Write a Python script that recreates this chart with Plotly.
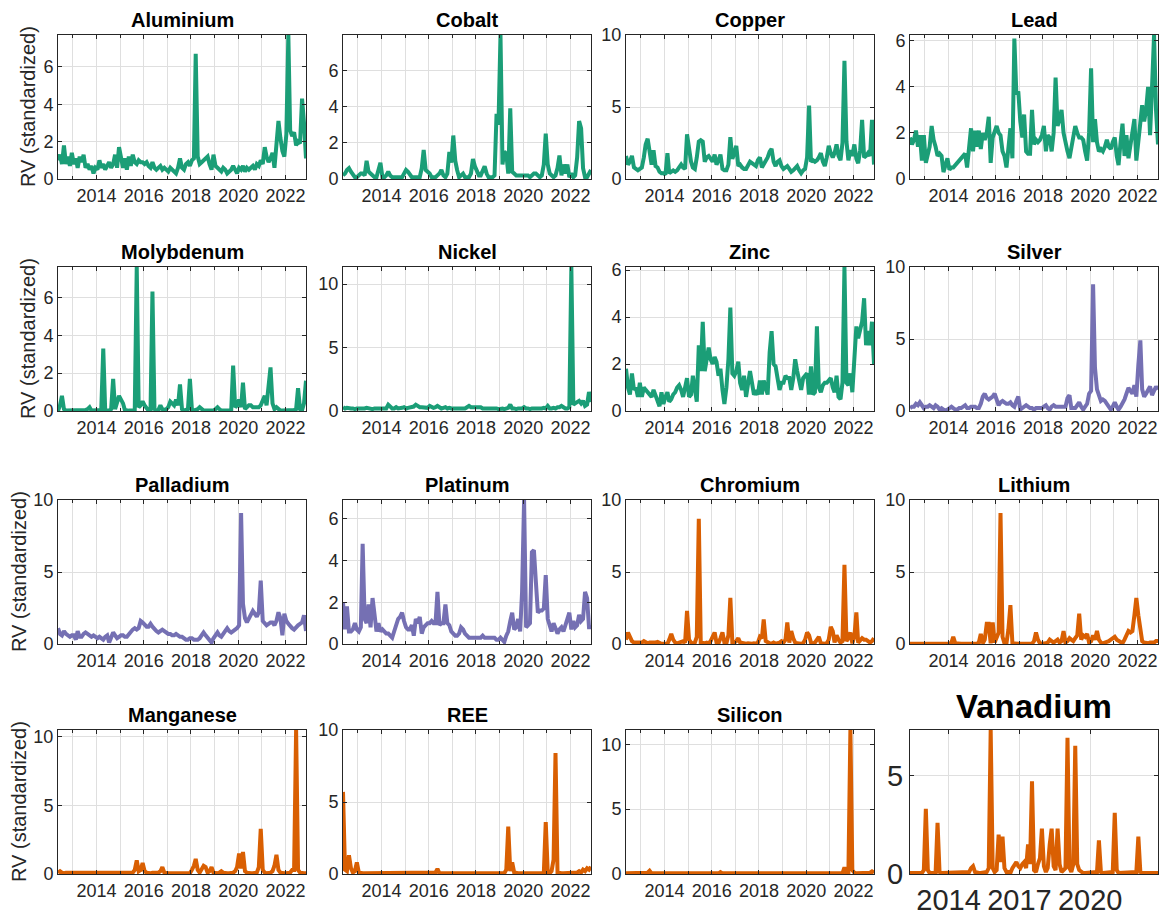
import pandas as pd
import plotly.graph_objects as go

# Monthly observations, May 2012 - Nov 2022 (mid-month stamps)
dates = pd.date_range("2012-05-01", "2022-11-01", freq="MS") + pd.Timedelta(days=14)

metals = ["Aluminium", "Cobalt", "Copper", "Lead",
          "Molybdenum", "Nickel", "Zinc", "Silver",
          "Palladium", "Platinum", "Chromium", "Lithium",
          "Manganese", "REE", "Silicon", "Vanadium"]

# one line per calendar year (2012: May-Dec, 2022: Jan-Nov)
aluminium = [
    1.0, 1.3, 0.8, 1.8, 0.8, 1.2, 0.7, 1.4,
    0.8, 1.1, 0.6, 1.2, 0.9, 1.3, 0.6, 0.8, 0.5, 0.7, 0.3, 0.6,
    0.5, 1.0, 0.6, 0.8, 0.5, 0.7, 0.9, 0.6, 0.8, 1.3, 0.6, 1.7,
    1.0, 0.6, 1.1, 0.5, 1.2, 0.7, 1.3, 0.9, 0.8, 1.0, 0.9, 0.9,
    0.8, 0.9, 0.7, 0.6, 0.9, 0.6, 0.5, 0.6, 0.7, 0.5, 0.6, 0.5,
    0.4, 0.6, 0.5, 0.4, 0.3, 0.6, 1.1, 0.6, 0.5, 0.8, 0.9, 0.7,
    1.0, 1.1, 6.7, 1.2, 0.8, 0.9, 1.0, 1.1, 1.2, 0.8, 0.5, 1.3,
    0.7, 0.6, 0.5, 0.4, 0.6, 0.5, 0.3, 0.4, 0.5, 0.7, 0.5, 0.3,
    0.6, 0.5, 0.7, 0.4, 0.6, 0.5, 0.6, 0.7, 0.5, 0.8, 0.7, 1.0,
    0.8, 1.7, 1.2, 0.9, 1.1, 1.4, 0.6, 1.6, 3.1, 2.2, 1.5, 1.2,
    2.4, 7.7, 2.6, 2.3, 2.5, 1.8, 2.0, 1.9, 4.3, 3.0, 1.1,
]
cobalt = [
    0.2, 0.3, 0.5, 0.6, 0.4, 0.2, 0.1, 0.1,
    0.2, 0.3, 0.3, 0.2, 1.0, 0.4, 0.3, 0.2, 0.1, 0.1, 0.5, 0.9,
    0.1, 0.1, 0.2, 0.4, 0.2, 0.1, 0.1, 0.1, 0.1, 0.1, 0.1, 0.3,
    0.5, 0.4, 0.2, 0.1, 0.1, 0.1, 0.1, 0.1, 0.6, 1.6, 0.5, 0.4,
    0.3, 0.1, 0.1, 0.1, 0.2, 0.3, 0.5, 0.2, 0.1, 0.3, 1.5, 0.9,
    2.4, 1.0, 0.5, 0.1, 0.2, 0.3, 0.1, 0.1, 0.1, 0.3, 1.1, 0.7,
    0.4, 0.2, 0.2, 0.5, 0.7, 0.3, 0.1, 0.1, 0.1, 0.2, 3.6, 3.0,
    7.95, 0.8, 1.5, 1.4, 0.3, 3.9, 0.4, 0.3, 0.2, 0.2, 0.2, 0.2,
    0.2, 0.2, 0.2, 0.1, 0.2, 0.3, 0.3, 0.2, 0.1, 0.2, 0.8, 2.5,
    0.8, 0.3, 0.2, 0.1, 0.2, 0.6, 1.3, 0.2, 0.8, 0.3, 0.8, 0.1,
    0.3, 0.1, 0.2, 1.2, 3.2, 2.8, 0.6, 0.1, 0.1, 0.3, 0.5,
]
copper = [
    1.6, 1.0, 1.2, 1.6, 0.8, 0.7, 0.6, 0.7,
    0.8, 1.5, 2.4, 2.8, 2.0, 1.0, 2.0, 0.9, 0.8, 0.5, 0.4, 0.4,
    0.3, 1.8, 0.4, 0.5, 0.6, 0.5, 0.6, 0.8, 1.0, 0.8, 0.7, 3.1,
    2.0, 1.2, 0.8, 0.7, 1.5, 2.6, 2.7, 2.6, 1.2, 1.5, 1.6, 1.4,
    1.2, 1.7, 1.0, 1.3, 1.7, 0.7, 0.6, 0.6, 1.0, 2.9, 1.4, 1.8,
    2.3, 0.9, 1.0, 0.8, 0.7, 0.7, 1.0, 1.2, 1.1, 1.0, 0.9, 1.3,
    1.5, 0.8, 1.0, 1.3, 1.5, 1.9, 2.1, 1.2, 0.9, 1.2, 1.3, 0.9,
    0.7, 0.8, 0.9, 0.7, 0.5, 0.6, 0.8, 0.9, 0.6, 0.4, 0.6, 0.7,
    1.5, 5.1, 1.2, 1.3, 1.2, 1.3, 1.5, 1.8, 1.2, 0.9, 1.5, 2.3,
    1.8, 1.5, 1.8, 2.4, 1.6, 1.3, 2.5, 8.2, 2.6, 1.3, 2.0, 1.6,
    2.4, 1.4, 1.1, 2.0, 4.1, 1.5, 1.6, 1.8, 1.6, 4.1, 1.0,
]
lead = [
    1.8, 1.5, 1.7, 2.1, 1.4, 1.9, 0.8, 1.9,
    0.7, 1.0, 1.4, 2.3, 1.7, 1.4, 1.0, 1.1, 1.0, 0.3, 0.7, 0.9,
    0.4, 0.5, 0.5, 0.6, 0.7, 0.8, 0.9, 1.0, 1.1, 0.5, 1.3, 2.2,
    1.2, 2.1, 1.4, 2.1, 1.3, 2.0, 1.7, 2.0, 2.7, 0.7, 1.8, 2.1,
    2.3, 2.0, 1.9, 1.2, 1.0, 0.5, 1.6, 2.2, 0.9, 6.1, 3.7, 3.8,
    2.5, 1.8, 2.8, 1.2, 1.1, 1.1, 3.0, 1.5, 1.7, 1.6, 1.7, 1.9,
    2.3, 1.2, 1.9, 1.8, 1.2, 2.0, 4.4, 2.3, 2.6, 3.0, 2.0, 1.5,
    1.2, 0.9, 1.3, 1.8, 2.3, 2.0, 1.8, 1.8, 1.7, 1.2, 0.8, 2.0,
    4.8, 1.6, 2.6, 1.6, 1.2, 1.3, 1.2, 1.4, 1.7, 1.4, 1.3, 1.6,
    1.8, 1.0, 0.6, 1.6, 2.4, 1.0, 1.9, 0.9, 1.5, 2.2, 2.6, 0.8,
    1.6, 2.4, 3.2, 2.5, 3.0, 4.0, 1.9, 4.0, 6.25, 3.0, 1.5,
]
molybdenum = [
    0.0, 0.3, 0.8, 0.1, 0.02, 0.02, 0.02, 0.05,
    0.02, 0.02, 0.05, 0.02, 0.02, 0.02, 0.05, 0.1, 0.2, 0.02, 0.02, 0.02,
    0.02, 0.02, 0.05, 3.3, 0.05, 0.02, 0.02, 0.1, 1.7, 0.1, 0.5, 0.8,
    0.6, 0.4, 0.05, 0.02, 0.02, 0.02, 0.02, 0.02, 7.6, 0.2, 0.3, 0.5,
    0.3, 0.1, 0.02, 0.02, 6.3, 0.1, 0.02, 0.05, 0.3, 0.1, 0.05, 0.1,
    0.2, 0.5, 0.4, 0.3, 0.6, 0.3, 1.4, 0.1, 0.02, 0.05, 0.1, 1.7,
    0.1, 0.02, 0.05, 0.1, 0.2, 0.1, 0.02, 0.02, 0.02, 0.02, 0.02, 0.02,
    0.1, 0.2, 0.1, 0.02, 0.02, 0.02, 0.05, 0.02, 0.02, 2.4, 0.2, 0.3,
    0.6, 0.2, 1.5, 0.1, 0.2, 0.3, 0.3, 0.2, 0.2, 0.2, 0.2, 0.3,
    0.5, 0.8, 0.3, 1.2, 2.3, 0.4, 0.1, 0.2, 0.1, 0.02, 0.02, 0.02,
    0.02, 0.02, 0.02, 0.02, 0.05, 0.1, 1.2, 0.1, 0.05, 0.4, 1.6,
]
nickel = [
    0.3, 0.2, 0.25, 0.2, 0.2, 0.2, 0.15, 0.2,
    0.2, 0.2, 0.15, 0.2, 0.25, 0.2, 0.15, 0.15, 0.2, 0.2, 0.15, 0.2,
    0.2, 0.15, 0.2, 0.5, 0.3, 0.2, 0.2, 0.3, 0.2, 0.2, 0.25, 0.3,
    0.2, 0.25, 0.3, 0.3, 0.35, 0.5, 0.4, 0.3, 0.3, 0.3, 0.3, 0.25,
    0.4, 0.3, 0.25, 0.3, 0.4, 0.3, 0.2, 0.25, 0.3, 0.2, 0.25, 0.2,
    0.2, 0.25, 0.2, 0.2, 0.2, 0.25, 0.2, 0.3, 0.4, 0.3, 0.3, 0.25,
    0.3, 0.25, 0.3, 0.2, 0.2, 0.2, 0.25, 0.2, 0.2, 0.2, 0.2, 0.15,
    0.2, 0.2, 0.15, 0.2, 0.25, 0.5, 0.2, 0.2, 0.15, 0.2, 0.2, 0.2,
    0.3, 0.2, 0.2, 0.15, 0.2, 0.2, 0.15, 0.2, 0.2, 0.2, 0.25, 0.2,
    0.4, 0.2, 0.2, 0.25, 0.2, 0.3, 0.3, 0.4, 0.3, 0.2, 0.2, 0.3,
    11.35, 0.5, 0.6, 0.7, 0.8, 0.6, 0.8, 0.4, 0.5, 1.5, 0.7,
]
zinc = [
    1.8, 1.0, 0.7, 1.6, 0.9, 1.0, 0.6, 1.2,
    0.6, 1.0, 0.9, 0.8, 0.7, 0.6, 0.9, 0.7, 0.5, 0.2, 0.8, 0.3,
    0.6, 0.8, 0.4, 0.5, 0.7, 0.8, 1.0, 1.1, 0.9, 0.6, 1.0, 1.4,
    0.6, 0.7, 1.5, 0.9, 0.4, 2.8, 1.7, 3.8, 1.7, 2.2, 2.7, 2.2,
    2.0, 2.3, 2.1, 1.5, 1.8, 0.9, 0.3, 1.0, 2.2, 4.4, 1.6, 1.5,
    1.7, 2.1, 1.2, 0.9, 1.5, 0.6, 1.2, 1.7, 1.2, 0.7, 0.8, 0.7,
    1.3, 0.7, 1.3, 0.9, 0.7, 2.5, 3.4, 2.0, 1.9, 1.4, 0.9, 1.2,
    1.2, 1.5, 1.4, 1.4, 0.9, 1.4, 2.2, 1.7, 1.2, 0.9, 1.4, 1.5,
    1.6, 0.7, 1.9, 0.7, 0.8, 3.6, 1.0, 0.8, 1.1, 1.2, 1.2, 1.3,
    1.4, 1.0, 0.8, 1.5, 0.6, 0.5, 1.2, 6.13, 1.2, 1.1, 1.6, 0.8,
    2.0, 3.6, 3.1, 3.4, 3.8, 4.8, 2.8, 3.4, 2.8, 3.8, 2.0,
]
silver = [
    0.2, 0.3, 0.3, 0.5, 0.4, 0.6, 0.4, 0.2,
    0.3, 0.3, 0.4, 0.3, 0.2, 0.4, 0.3, 0.1, 0.2, 0.1, 0.05, 0.1,
    0.2, 0.3, 0.2, 0.1, 0.1, 0.2, 0.2, 0.3, 0.4, 0.2, 0.2, 0.3,
    0.3, 0.3, 0.2, 0.2, 0.5, 1.0, 1.2, 0.9, 0.8, 0.9, 1.0, 1.2,
    0.7, 0.4, 0.6, 0.7, 0.6, 0.5, 0.5, 0.6, 0.4, 0.3, 0.7, 1.0,
    0.1, 0.2, 0.3, 0.4, 0.3, 0.2, 0.2, 0.1, 0.2, 0.2, 0.2, 0.2,
    0.3, 0.4, 0.2, 0.1, 0.3, 0.4, 0.3, 0.3, 0.3, 0.3, 0.3, 0.3,
    0.9, 1.1, 0.2, 0.2, 0.2, 0.4, 0.6, 0.3, 0.1, 0.3, 0.5, 1.2,
    1.4, 8.8, 3.0, 1.5, 1.0, 0.7, 0.8, 0.7, 0.5, 0.3, 0.1, 0.3,
    0.6, 0.3, 0.1, 0.3, 0.5, 0.8, 1.2, 1.6, 1.4, 1.2, 1.8, 1.0,
    3.2, 4.9, 1.5, 1.0, 1.2, 1.4, 1.7, 1.1, 1.4, 1.7, 1.5,
]
palladium = [
    1.1, 0.7, 0.6, 0.9, 0.7, 0.6, 0.5, 0.6,
    0.6, 0.3, 0.9, 0.5, 0.5, 0.7, 0.8, 0.7, 0.6, 0.5, 0.6, 0.5,
    0.4, 0.5, 0.4, 0.3, 0.5, 0.6, 0.1, 0.4, 0.8, 0.6, 0.4, 0.5,
    0.6, 0.6, 0.5, 0.5, 0.7, 0.9, 1.0, 1.1, 1.0, 1.1, 1.6, 1.5,
    1.3, 1.2, 1.2, 1.4, 1.2, 1.0, 0.9, 0.8, 0.9, 1.0, 0.9, 0.8,
    0.7, 0.7, 0.6, 0.6, 0.7, 0.6, 0.5, 0.5, 0.4, 0.3, 0.3, 0.4,
    0.4, 0.3, 0.3, 0.3, 0.4, 0.6, 0.8, 0.6, 0.4, 0.3, 0.1, 0.4,
    0.6, 0.8, 0.6, 0.5, 0.7, 0.9, 1.1, 0.9, 0.8, 0.9, 1.0, 1.1,
    1.3, 9.1, 2.8, 1.8, 1.5, 1.8, 2.0, 2.3, 2.1, 1.9, 2.2, 4.4,
    1.6, 1.4, 1.3, 1.4, 1.5, 1.5, 1.3, 1.6, 2.2, 1.8, 0.6, 2.1,
    1.6, 1.4, 1.2, 1.1, 1.0, 1.2, 1.3, 1.4, 1.5, 2.0, 0.9,
]
platinum = [
    2.0, 0.7, 1.8, 0.6, 0.6, 0.7, 1.0, 0.7,
    0.6, 0.8, 4.8, 1.2, 1.0, 1.9, 0.8, 2.2, 1.4, 0.6, 1.0, 0.6,
    0.7, 0.6, 0.5, 0.5, 0.4, 0.3, 0.6, 0.9, 1.2, 1.3, 1.5, 1.1,
    0.8, 0.7, 0.7, 0.9, 0.4, 1.2, 1.0, 1.3, 0.5, 0.8, 0.9, 1.0,
    1.0, 1.1, 1.0, 1.0, 2.5, 0.9, 1.0, 1.0, 1.9, 1.0, 0.9, 0.6,
    0.5, 0.4, 0.4, 0.5, 0.8, 0.7, 0.5, 0.4, 0.3, 0.3, 0.3, 0.3,
    0.3, 0.3, 0.3, 0.4, 0.3, 0.3, 0.3, 0.3, 0.3, 0.3, 0.2, 0.2,
    0.3, 0.2, 0.1, 0.4, 0.6, 1.1, 1.5, 0.7, 0.8, 1.2, 0.6, 2.5,
    6.9, 0.8, 0.9, 1.0, 4.4, 4.5, 3.0, 1.5, 1.6, 1.6, 1.7, 3.3,
    1.2, 0.8, 0.6, 1.0, 0.7, 0.5, 0.7, 0.8, 0.6, 0.9, 1.2, 1.5,
    0.7, 1.1, 0.8, 0.9, 1.4, 1.1, 1.2, 2.5, 2.2, 0.8, 0.8,
]
chromium = [
    0.3, 0.8, 0.5, 0.2, 0.1, 0.1, 0.1, 0.05,
    0.1, 0.2, 0.1, 0.05, 0.1, 0.1, 0.05, 0.1, 0.15, 0.05, 0.02, 0.02,
    0.05, 0.02, 0.3, 0.7, 0.3, 0.1, 0.05, 0.1, 0.2, 0.2, 0.1, 2.3,
    0.3, 0.1, 0.05, 0.1, 0.5, 8.7, 0.1, 0.05, 0.05, 0.1, 0.05, 0.2,
    0.5, 0.8, 0.1, 0.05, 0.4, 0.8, 0.1, 0.05, 0.6, 3.2, 0.1, 0.1,
    0.2, 0.4, 0.1, 0.05, 0.02, 0.02, 0.05, 0.02, 0.02, 0.05, 0.02, 0.1,
    0.5, 0.4, 1.7, 0.2, 0.1, 0.05, 0.02, 0.1, 0.02, 0.05, 0.1, 0.2,
    0.1, 0.3, 1.5, 0.1, 0.9, 0.4, 0.1, 0.05, 0.02, 0.02, 0.05, 0.3,
    0.8, 0.6, 0.1, 0.05, 0.1, 0.3, 0.5, 0.05, 0.02, 0.02, 0.05, 0.3,
    1.2, 0.9, 0.1, 0.6, 0.3, 0.1, 0.2, 5.5, 0.2, 0.4, 0.8, 0.05,
    0.5, 2.2, 0.1, 0.3, 0.4, 0.3, 0.3, 0.2, 0.1, 0.2, 0.4,
]
lithium = [
    0.02, 0.02, 0.02, 0.02, 0.02, 0.02, 0.02, 0.02,
    0.02, 0.02, 0.02, 0.02, 0.02, 0.02, 0.02, 0.02, 0.02, 0.02, 0.02, 0.02,
    0.02, 0.1, 0.5, 0.05, 0.02, 0.02, 0.02, 0.02, 0.02, 0.02, 0.02, 0.02,
    0.02, 0.02, 0.02, 0.1, 0.7, 0.05, 0.3, 1.4, 1.4, 0.05, 1.5, 0.1,
    0.5, 0.8, 9.1, 0.5, 0.05, 0.05, 1.0, 2.7, 0.05, 0.02, 0.02, 0.02,
    0.02, 0.02, 0.02, 0.02, 0.02, 0.02, 0.02, 0.2, 0.8, 0.3, 0.05, 0.02,
    0.02, 0.05, 0.1, 0.3, 0.2, 0.1, 0.2, 0.3, 0.1, 0.2, 0.9, 0.1,
    0.2, 0.4, 0.3, 0.2, 0.4, 0.6, 2.1, 0.3, 0.6, 0.5, 0.7, 0.1,
    0.2, 0.6, 0.3, 0.9, 0.3, 0.1, 0.05, 0.1, 0.1, 0.2, 0.3, 0.4,
    0.5, 0.3, 0.2, 0.1, 0.05, 0.3, 0.6, 0.9, 0.8, 0.9, 2.0, 3.2,
    2.0, 0.8, 0.2, 0.1, 0.05, 0.05, 0.1, 0.1, 0.1, 0.2, 0.2,
]
manganese = [
    0.1, 0.2, 0.1, 0.05, 0.1, 0.1, 0.05, 0.1,
    0.1, 0.05, 0.1, 0.1, 0.05, 0.1, 0.05, 0.05, 0.05, 0.05, 0.05, 0.1,
    0.05, 0.05, 0.05, 0.05, 0.05, 0.05, 0.05, 0.05, 0.05, 0.05, 0.05, 0.05,
    0.05, 0.05, 0.05, 0.05, 0.05, 0.05, 0.1, 0.3, 1.0, 0.2, 0.3, 0.8,
    0.2, 0.1, 0.05, 0.05, 0.1, 0.1, 0.05, 0.1, 0.2, 0.5, 0.1, 0.05,
    0.05, 0.05, 0.05, 0.05, 0.05, 0.05, 0.05, 0.05, 0.05, 0.05, 0.05, 0.05,
    0.3, 0.6, 1.1, 0.3, 0.1, 0.3, 0.6, 0.5, 0.1, 0.2, 0.5, 0.1,
    0.05, 0.05, 0.1, 0.2, 0.1, 0.05, 0.05, 0.05, 0.05, 0.1, 0.2, 0.5,
    1.5, 0.4, 1.6, 0.2, 0.1, 0.05, 0.05, 0.05, 0.1, 0.1, 0.5, 3.3,
    0.3, 0.1, 0.05, 0.05, 0.1, 0.2, 0.6, 1.4, 0.3, 0.1, 0.05, 0.05,
    0.05, 0.05, 0.1, 0.3, 0.3, 10.5, 0.3, 0.1, 0.05, 0.05, 0.05,
]
ree = [
    5.7, 0.3, 0.2, 1.3, 0.4, 0.1, 0.2, 0.8,
    0.1, 0.05, 0.05, 0.05, 0.05, 0.05, 0.05, 0.05, 0.05, 0.05, 0.1, 0.05,
    0.05, 0.05, 0.05, 0.05, 0.05, 0.05, 0.05, 0.05, 0.05, 0.05, 0.05, 0.05,
    0.05, 0.05, 0.05, 0.05, 0.05, 0.1, 0.05, 0.05, 0.05, 0.05, 0.05, 0.05,
    0.05, 0.05, 0.05, 0.1, 0.35, 0.05, 0.05, 0.05, 0.05, 0.05, 0.05, 0.05,
    0.05, 0.05, 0.05, 0.1, 0.05, 0.05, 0.05, 0.05, 0.05, 0.05, 0.05, 0.05,
    0.05, 0.05, 0.05, 0.05, 0.05, 0.05, 0.05, 0.05, 0.05, 0.05, 0.05, 0.05,
    0.05, 0.05, 0.05, 0.3, 3.3, 0.2, 0.8, 0.1, 0.05, 0.05, 0.05, 0.05,
    0.05, 0.05, 0.05, 0.05, 0.05, 0.05, 0.05, 0.05, 0.05, 0.05, 0.05, 3.6,
    0.1, 0.05, 0.2, 1.0, 8.4, 0.1, 0.05, 0.05, 0.05, 0.05, 0.05, 0.1,
    0.1, 0.05, 0.1, 0.1, 0.2, 0.1, 0.3, 0.2, 0.4, 0.3, 0.5,
]
silicon = [
    0.05, 0.05, 0.05, 0.05, 0.05, 0.1, 0.05, 0.05,
    0.05, 0.05, 0.05, 0.1, 0.25, 0.05, 0.05, 0.05, 0.05, 0.05, 0.05, 0.05,
    0.05, 0.05, 0.05, 0.05, 0.1, 0.05, 0.05, 0.05, 0.05, 0.05, 0.05, 0.05,
    0.05, 0.05, 0.05, 0.05, 0.05, 0.05, 0.1, 0.05, 0.05, 0.05, 0.05, 0.05,
    0.05, 0.05, 0.05, 0.05, 0.15, 0.05, 0.05, 0.05, 0.05, 0.05, 0.05, 0.05,
    0.05, 0.05, 0.05, 0.05, 0.05, 0.05, 0.05, 0.05, 0.05, 0.05, 0.05, 0.05,
    0.05, 0.05, 0.05, 0.05, 0.05, 0.05, 0.05, 0.05, 0.05, 0.05, 0.05, 0.05,
    0.05, 0.05, 0.05, 0.05, 0.05, 0.05, 0.05, 0.05, 0.05, 0.05, 0.05, 0.05,
    0.05, 0.05, 0.05, 0.05, 0.05, 0.05, 0.05, 0.05, 0.05, 0.05, 0.05, 0.05,
    0.05, 0.05, 0.05, 0.05, 0.05, 0.05, 0.05, 0.5, 0.05, 0.05, 11.1, 0.3,
    0.1, 0.05, 0.05, 0.05, 0.05, 0.1, 0.05, 0.05, 0.1, 0.2, 0.1,
]
vanadium = [
    0.05, 0.05, 0.05, 0.05, 0.05, 0.05, 0.05, 0.2,
    3.3, 0.2, 0.05, 0.05, 0.05, 0.05, 2.6, 0.1, 0.05, 0.05, 0.05, 0.05,
    0.05, 0.05, 0.05, 0.05, 0.05, 0.05, 0.05, 0.05, 0.05, 0.05, 0.1, 0.3,
    0.4, 0.1, 0.05, 0.05, 0.05, 0.05, 0.05, 0.1, 0.3, 7.3, 0.3, 0.1,
    0.2, 2.0, 0.6, 1.9, 0.3, 0.1, 0.1, 0.05, 0.3, 0.5, 0.6, 0.4,
    0.3, 0.5, 0.6, 0.3, 1.5, 0.5, 4.7, 0.2, 0.1, 0.5, 0.8, 2.3,
    0.4, 0.1, 0.3, 1.5, 2.3, 0.4, 0.2, 2.3, 0.5, 0.1, 0.2, 0.3,
    6.9, 0.3, 0.1, 0.5, 6.5, 0.5, 0.2, 0.1, 0.05, 0.05, 0.05, 0.05,
    0.05, 0.05, 0.05, 0.1, 1.7, 0.1, 0.05, 0.05, 0.05, 0.05, 0.05, 0.1,
    3.1, 0.2, 0.05, 0.05, 0.05, 0.05, 0.05, 0.05, 0.05, 0.05, 0.05, 0.1,
    1.9, 0.1, 0.05, 0.05, 0.05, 0.05, 0.05, 0.05, 0.05, 0.05, 0.05,
]

series = [aluminium, cobalt, copper, lead, molybdenum, nickel, zinc, silver,
          palladium, platinum, chromium, lithium, manganese, ree, silicon, vanadium]

# metal groups: base/battery (green), precious (purple), other critical (orange)
GREEN, PURPLE, ORANGE = "#1b9e77", "#7570b3", "#d95f02"
colors = [GREEN] * 7 + [PURPLE] * 3 + [ORANGE] * 6

# y-axis upper limit (None = tight to the series maximum) and tick step
y_top = [None, None, 10, None, None, None, None, 10,
         10, None, 10, 10, None, 10, None, None]
y_step = [2, 2, 5, 2, 2, 5, 2, 5, 5, 2, 5, 5, 5, 5, 5, 5]

W, H = 1163, 923
col_left = [58, 343, 626, 910]
row_top = [35, 267, 500, 730]
AX_W, AX_H = 248, 144
# y-label offset: further left when the first panel of a row has two-digit ticks
ylabel_x = [28, 28, 19, 19]

FONT = "Liberation Sans, Arial, Helvetica, sans-serif"
INK = "#262626"
GRID = "#dfdfdf"

fig = go.Figure()
annotations = []

for i, (name, vals) in enumerate(zip(metals, series)):
    assert len(vals) == len(dates), (name, len(vals))
    r, c = divmod(i, 4)
    k = "" if i == 0 else str(i + 1)
    big = (i == 15)
    tick_size = 29 if big else 18

    fig.add_trace(go.Scatter(
        x=dates, y=vals, mode="lines",
        line=dict(color=colors[i], width=4),
        xaxis="x" + k, yaxis="y" + k, showlegend=False,
        hoverinfo="skip",
    ))

    x0 = col_left[c] / W
    x1 = (col_left[c] + AX_W) / W
    y1 = 1 - row_top[r] / H
    y0 = 1 - (row_top[r] + AX_H) / H
    top = y_top[i] if y_top[i] is not None else max(vals)

    xa = dict(
        domain=[x0, x1], anchor="y" + k, type="date",
        range=[dates[0], dates[-1]],
        tickformat="%Y",
        dtick="M36" if big else "M24",
        tick0="2014-01-01",
        ticks="inside", ticklen=4, tickcolor=INK,
        showgrid=True, gridcolor=GRID, gridwidth=1,
        showline=True, linecolor=INK, linewidth=1, mirror="ticks",
        zeroline=False, automargin=False,
        tickfont=dict(family=FONT, size=tick_size, color=INK),
    )
    if not big:
        xa["minor"] = dict(dtick="M12", tick0="2013-01-01", showgrid=True,
                           gridcolor=GRID, ticks="inside", ticklen=3,
                           tickcolor=INK)
    ya = dict(
        domain=[y0, y1], anchor="x" + k,
        range=[0, top], dtick=y_step[i], tick0=0,
        ticks="inside", ticklen=4, tickcolor=INK,
        showgrid=True, gridcolor=GRID, gridwidth=1,
        showline=True, linecolor=INK, linewidth=1, mirror="ticks",
        zeroline=False, automargin=False,
        tickfont=dict(family=FONT, size=tick_size, color=INK),
    )
    fig.update_layout({"xaxis" + k: xa, "yaxis" + k: ya})

    # panel title
    annotations.append(dict(
        text="<b>%s</b>" % name, xref="paper", yref="paper",
        x=(x0 + x1) / 2, y=1 - ((row_top[r] - (24 if big else 15)) / H),
        xanchor="center", yanchor="middle", showarrow=False,
        font=dict(family=FONT, size=33 if big else 20, color="black"),
    ))

    # y-axis label on the first column
    if c == 0:
        annotations.append(dict(
            text="RV (standardized)", xref="paper", yref="paper",
            x=ylabel_x[r] / W, y=(y0 + y1) / 2, textangle=-90,
            xanchor="center", yanchor="middle", showarrow=False,
            font=dict(family=FONT, size=20, color=INK),
        ))

fig.update_layout(
    width=W, height=H, autosize=False,
    margin=dict(l=0, r=0, t=0, b=0, pad=0, autoexpand=False),
    paper_bgcolor="white", plot_bgcolor="white",
    annotations=annotations,
    font=dict(family=FONT, color=INK),
)

fig.write_html("out.html")
